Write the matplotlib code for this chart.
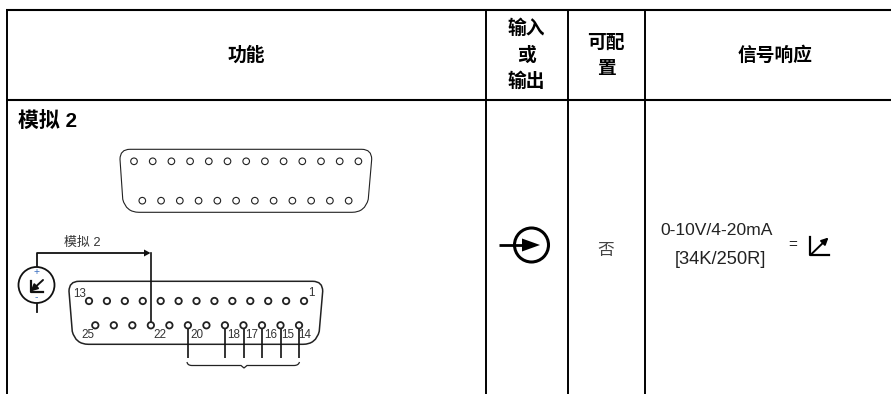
import matplotlib
matplotlib.use("Agg")
import matplotlib.pyplot as plt
from matplotlib.path import Path
from matplotlib.patches import PathPatch, Circle, Polygon

plt.rcParams['font.family'] = ['Liberation Sans', 'Noto Sans CJK SC', 'DejaVu Sans']

W, H = 891, 394
header_labels = ['功能', '信号响应']
header_x = [246, 775]
input_lines = ['输入', '或', '输出']
input_y = [29, 56, 82]
config_lines = ['可配', '置']
config_y = [43, 69]
column_lines = [7, 485.5, 568.3, 645]
row_lines = [10, 99.5]
section_title = '模拟 2'
signal_label = '模拟 2'
configurable = '否'
signal_lines = ['0-10V/4-20mA', '[34K/250R]']
top_row_count = 13
bottom_row_count = 12
bottom_numbers = ['25', '22', '20', '18', '17', '16', '15', '14']
bottom_number_pos = [88, 160.3, 196.7, 234, 251.5, 270.5, 287.7, 305]
wired_pins = [188, 225.2, 243.8, 262.4, 280.7, 299]

fig = plt.figure(figsize=(W / 100, H / 100), dpi=100)
ax = fig.add_axes([0, 0, 1, 1])
ax.set_xlim(0, W)
ax.set_ylim(H, 0)
ax.axis('off')
BLK = '#000000'

# table grid
for y in row_lines:
    ax.plot([6, W], [y, y], color=BLK, lw=1.5, solid_capstyle='butt')
for x in column_lines:
    ax.plot([x, x], [9.5, H], color=BLK, lw=1.4, solid_capstyle='butt')

# header
HF = 13.5
for s, x in zip(header_labels, header_x):
    ax.text(x, 56, s, ha='center', va='center', fontsize=HF, fontweight='bold', color=BLK)
for s, y in zip(input_lines, input_y):
    ax.text(526, y, s, ha='center', va='center', fontsize=HF, fontweight='bold', color=BLK)
for s, y in zip(config_lines, config_y):
    ax.text(606, y, s, ha='center', va='center', fontsize=HF, fontweight='bold', color=BLK)
ax.text(18, 121.5, section_title, ha='left', va='center', fontsize=15, fontweight='bold', color=BLK)


def shell(l, r, t, b, lb, rb, rt, rb_r, lw, color='#222222'):
    """rounded D-sub outline"""
    v = [(l + rt, t), (r - rt, t), (r, t), (r, t + rt), (rb + rb_r * .25, b - rb_r),
         (rb, b), (rb - rb_r, b), (lb + rb_r, b), (lb, b), (lb - rb_r * .25, b - rb_r),
         (l, t + rt), (l, t), (l + rt, t)]
    c = [Path.MOVETO, Path.LINETO, Path.CURVE3, Path.CURVE3, Path.LINETO, Path.CURVE3, Path.CURVE3,
         Path.LINETO, Path.CURVE3, Path.CURVE3, Path.LINETO, Path.CURVE3, Path.CURVE3]
    ax.add_patch(PathPatch(Path(v, c), fill=False, ec=color, lw=lw))


def pins(x0, step, y, n, r, lw):
    for i in range(n):
        ax.add_patch(Circle((x0 + i * step, y), r, fc='white', ec='#222222', lw=lw, zorder=3))


# upper connector
shell(120, 371.7, 149.3, 212.3, 126, 365, 10, 13, 0.8)
pins(134, 18.7, 161.3, top_row_count, 3.3, 0.8)
pins(142.3, 18.76, 200.7, bottom_row_count, 3.3, 0.8)

# lower connector
shell(69, 322.7, 281.3, 344.3, 75.5, 316, 10, 13, 1.1)
for x in wired_pins:
    ax.plot([x, x], [325, 358], color='#111111', lw=1.2, solid_capstyle='butt', zorder=2)
ax.plot([151, 151], [253, 325], color='#111111', lw=1.2, zorder=2)
pins(89, 17.92, 301, top_row_count, 3.2, 1.3)
pins(95.3, 18.52, 325.3, bottom_row_count, 3.2, 1.3)
ax.text(80, 294, '13', fontsize=8.4, ha='center', va='center', color='#333333')
ax.text(311, 292.7, '1', fontsize=8.4, ha='center', va='center', color='#333333')
for s, x in zip(bottom_numbers, bottom_number_pos):
    ax.text(x, 335.5, s, fontsize=8.4, ha='center', va='center', color='#333333')

# brace
bv = [(187, 362), (187.5, 365.5), (192, 365.5), (241, 365.5), (244, 368), (247, 365.5), (294, 365.5), (298.5, 365.5), (299.5, 362)]
bc = [Path.MOVETO, Path.CURVE3, Path.CURVE3, Path.LINETO, Path.LINETO, Path.LINETO, Path.LINETO, Path.CURVE3, Path.CURVE3]
ax.add_patch(PathPatch(Path(bv, bc), fill=False, ec='#222222', lw=0.9))

# source and wire
ax.plot([36.5, 36.5, 148], [266, 253, 253], color='#111111', lw=1.3)
ax.add_patch(Polygon([[144, 249.5], [150.5, 253], [144, 256.5]], fc='#111111', ec='none'))
ax.plot([36.5, 36.5], [304, 312], color='#111111', lw=1.3)
ax.add_patch(Circle((36.5, 285), 18, fc='white', ec='#111111', lw=1.3))
ax.text(36.5, 272, '+', fontsize=7.5, ha='center', va='center', color='#3a6fc0')
ax.text(36.5, 297.5, '-', fontsize=7.5, ha='center', va='center', color='#3a6fc0')
ax.plot([30.5, 30.5, 43], [281, 291.5, 291.5], color='#111111', lw=1.6)
ax.annotate('', xy=(30.5, 291.5), xytext=(43, 280),
            arrowprops=dict(arrowstyle='-|>', color='#111111', lw=1.4, mutation_scale=10, shrinkA=0, shrinkB=0))
ax.text(64, 243, signal_label, fontsize=9.3, ha='left', va='center', color='#333333')

# input symbol
ax.add_patch(Circle((531.5, 245), 17, fc='none', ec=BLK, lw=2.2))
ax.plot([499, 525], [245, 245], color=BLK, lw=2.0, solid_capstyle='butt')
ax.add_patch(Polygon([[522, 238.5], [540, 245], [522, 251.5]], fc=BLK, ec='none'))

# not configurable
ax.text(605.7, 250, configurable, fontsize=12, ha='center', va='center', color='#444444')

# signal response
ax.text(717, 230, signal_lines[0], fontsize=12.6, ha='center', va='center', color='#222222')
ax.text(720, 260, signal_lines[1], fontsize=13.2, ha='center', va='center', color='#222222')
ax.text(793, 245, '=', fontsize=11, ha='center', va='center', color='#222222')
ax.plot([810, 810, 828.5], [237, 255.3, 255.3], color=BLK, lw=1.6)
ax.annotate('', xy=(828.5, 237.5), xytext=(811, 254.5),
            arrowprops=dict(arrowstyle='-|>', color=BLK, lw=1.4, mutation_scale=10, shrinkA=0, shrinkB=0))

fig.savefig('out.png', dpi=100, facecolor='white')
